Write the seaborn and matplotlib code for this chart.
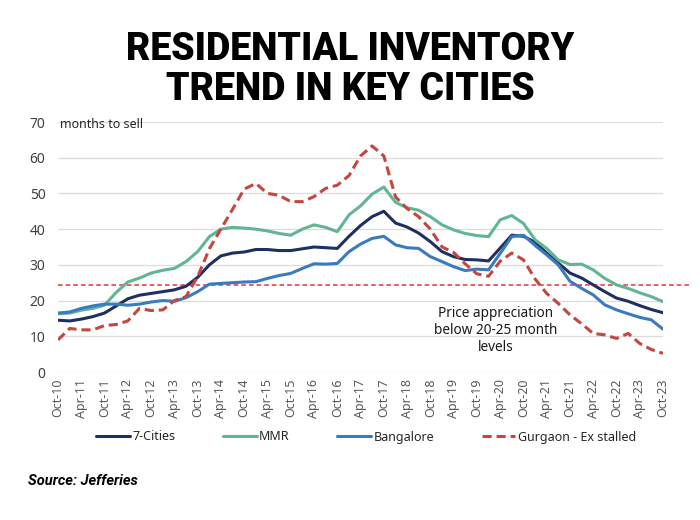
import pandas as pd
import numpy as np
import matplotlib
matplotlib.use('Agg')
import matplotlib.pyplot as plt
import seaborn as sns

# quarterly readings, Oct-10 .. Oct-23 (months to sell)
quarters = pd.date_range('2010-10-01', '2023-10-01', freq='QS-OCT')

sevenCities = [14.5, 14.3, 14.8, 15.5, 16.5, 18.5, 20.5, 21.5, 22.0, 22.5, 23.0, 24.0, 26.5,
               30.0, 32.5, 33.3, 33.6, 34.3, 34.3, 34.0, 34.0, 34.5, 35.0, 34.8, 34.6, 38.0,
               41.0, 43.5, 45.0, 41.7, 40.6, 38.9, 36.5, 33.7, 32.3, 31.5, 31.4, 31.1, 34.7,
               38.3, 38.0, 36.3, 33.3, 30.5, 27.7, 26.3, 24.4, 22.5, 20.7, 19.8, 18.6, 17.5, 16.6]
mmr = [16.3, 16.5, 17.3, 17.8, 18.7, 22.3, 25.2, 26.3, 27.7, 28.5, 29.0, 30.9, 33.7,
       37.9, 40.0, 40.5, 40.3, 40.0, 39.5, 38.8, 38.3, 40.0, 41.2, 40.5, 39.3, 44.0,
       46.5, 49.8, 51.8, 47.5, 46.0, 45.3, 43.5, 41.2, 39.8, 38.8, 38.2, 37.9, 42.6,
       43.8, 41.6, 37.0, 34.6, 31.4, 30.1, 30.2, 28.6, 26.2, 24.4, 23.4, 22.2, 21.1, 19.7]
bangalore = [16.5, 16.8, 17.8, 18.5, 19.0, 19.0, 18.7, 19.0, 19.6, 20.0, 19.8, 20.8, 22.5,
             24.6, 24.8, 25.0, 25.2, 25.3, 26.2, 27.0, 27.6, 29.0, 30.3, 30.2, 30.4, 33.7,
             35.8, 37.4, 38.0, 35.6, 34.8, 34.6, 32.3, 30.9, 29.5, 28.4, 28.8, 28.6, 33.2,
             37.9, 38.3, 35.4, 32.8, 30.0, 25.4, 23.4, 21.6, 18.8, 17.4, 16.3, 15.3, 14.6, 12.0]
gurgaon = [9.0, 12.2, 11.8, 11.8, 13.0, 13.3, 14.3, 17.8, 17.2, 17.4, 20.0, 21.1, 26.7,
           34.5, 40.0, 45.5, 51.2, 52.8, 50.0, 49.5, 47.7, 47.7, 49.1, 51.4, 52.3, 55.0,
           60.5, 63.3, 60.5, 49.0, 45.8, 43.5, 40.0, 35.0, 33.5, 30.3, 27.5, 26.8, 31.0,
           33.3, 31.4, 26.0, 22.0, 19.2, 16.0, 13.5, 10.8, 10.4, 9.4, 10.8, 8.0, 6.3, 5.2]

seriesNames = ['7-Cities', 'MMR', 'Bangalore', 'Gurgaon - Ex stalled']
seriesColors = ['#1f3060', '#62b592', '#3a7bbf', '#c4463f']
threshold = 24.5

sns.set_theme(style='white')
plt.rcParams['font.family'] = ['Noto Sans', 'DejaVu Sans']

fig = plt.figure(figsize=(7, 5.2), dpi=100)
ax = fig.add_axes([58 / 700, 1 - 372 / 520, 605 / 700, 250 / 520])

df = pd.DataFrame({'date': quarters, '7-Cities': sevenCities, 'MMR': mmr,
                   'Bangalore': bangalore, 'Gurgaon - Ex stalled': gurgaon})

for name, color in zip(seriesNames, seriesColors):
    if name.startswith('Gurgaon'):
        sns.lineplot(data=df, x='date', y=name, ax=ax, color=color, lw=2.2,
                     label=name, linestyle=(0, (3, 1.6)))
    else:
        sns.lineplot(data=df, x='date', y=name, ax=ax, color=color, lw=2.2, label=name)

ax.axhline(threshold, xmin=0, xmax=1.045, clip_on=False, color='#e0353c', lw=1.1,
           linestyle=(0, (3, 2)), zorder=1)

ticks = pd.date_range('2010-10-01', '2023-10-01', freq='6MS')
ax.set_xticks(ticks)
ax.set_xticklabels([t.strftime('%b-%y') for t in ticks], rotation=90, fontsize=9, color='#595959')
ax.set_xlim(quarters[0], quarters[-1])
ax.set_ylim(0, 70)
ax.set_yticks(range(0, 71, 10))
ax.tick_params(axis='y', labelsize=10, colors='#404040', length=0, pad=9)
ax.tick_params(axis='x', length=0, pad=5)
ax.grid(axis='y', color='#dcdcdc', lw=0.9)
ax.set_xlabel('')
ax.set_ylabel('')
for s in ax.spines.values():
    s.set_visible(False)

ax.text(0.004, 0.988, 'months to sell', transform=ax.transAxes, ha='left', va='center',
        fontsize=9, color='#262626')
ax.text(0.724, 0.166, 'Price appreciation\nbelow 20-25 month\nlevels', transform=ax.transAxes,
        ha='center', va='center', fontsize=9.8, color='#1a1a1a', linespacing=1.2)

handles, labels = ax.get_legend_handles_labels()
ax.legend_.remove()
fig.legend(handles, labels, loc='center', bbox_to_anchor=(366 / 700, 1 - 437 / 520), ncol=4,
           frameon=False, handlelength=2.7, columnspacing=3.8, handletextpad=0.2, fontsize=9)

titleFont = ['Roboto', 'DejaVu Sans']
fig.text(0.5, 1 - 60 / 520, 'RESIDENTIAL INVENTORY', ha='center', va='baseline', fontsize=27,
         fontweight=900, family=titleFont, color='#000000')
fig.text(0.5, 1 - 100 / 520, 'TREND IN KEY CITIES', ha='center', va='baseline', fontsize=27,
         fontweight=900, family=titleFont, color='#000000')
fig.text(28 / 700, 1 - 481 / 520, 'Source: Jefferies', ha='left', va='center', fontsize=10.5,
         fontweight='bold', fontstyle='italic', family=titleFont, color='#000000')

fig.savefig('out.png', dpi=100)
